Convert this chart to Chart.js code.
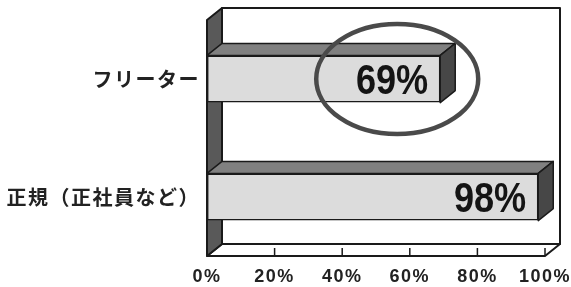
<!DOCTYPE html>
<html>
<head>
<meta charset="utf-8">
<script src="https://cdn.jsdelivr.net/npm/chart.js@4"></script>
<style>
  html, body { margin: 0; padding: 0; background: #fff; }
  #wrap { width: 571px; height: 287px; }
</style>
</head>
<body>
<div id="wrap"><canvas id="chart"></canvas></div>
<script>
const categories = ["フリーター", "正規（正社員など）"];
const shares = [69, 98];
const xTicks = [0, 20, 40, 60, 80, 100];
const highlightIndex = 0;

// depth of the fake 3d box
const DX = 15;
const DY = -12;

function poly(ctx, pts, fill) {
  ctx.beginPath();
  ctx.moveTo(pts[0][0], pts[0][1]);
  for (const p of pts.slice(1)) ctx.lineTo(p[0], p[1]);
  ctx.closePath();
  ctx.fillStyle = fill;
  ctx.fill();
  ctx.stroke();
}

const box3d = {
  id: "box3d",
  beforeDraw(chart) {
    chart.ctx.letterSpacing = "1.5px";
  },
  beforeDatasetsDraw(chart) {
    const { ctx, chartArea: a } = chart;
    const xs = chart.scales.x;
    ctx.save();
    ctx.letterSpacing = "0px";
    ctx.lineWidth = 2;
    ctx.strokeStyle = "#1a1a1a";
    ctx.lineJoin = "round";
    // back wall
    poly(ctx, [[a.left + DX, a.top + DY], [a.right + DX, a.top + DY], [a.right + DX, a.bottom + DY], [a.left + DX, a.bottom + DY]], "#fff");
    // floor
    poly(ctx, [[a.left, a.bottom], [a.left + DX, a.bottom + DY], [a.right + DX, a.bottom + DY], [a.right, a.bottom]], "#fff");
    // left wall
    poly(ctx, [[a.left, a.top], [a.left + DX, a.top + DY], [a.left + DX, a.bottom + DY], [a.left, a.bottom]], "#595959");
    // ticks on the floor edge
    ctx.lineWidth = 1.5;
    for (const t of xs.ticks) {
      const px = xs.getPixelForValue(t.value);
      ctx.beginPath();
      ctx.moveTo(px, a.bottom - 1);
      ctx.lineTo(px, a.bottom - 8);
      ctx.stroke();
    }
    ctx.restore();
  },
  afterDatasetsDraw(chart) {
    const { ctx } = chart;
    const meta = chart.getDatasetMeta(0);
    ctx.save();
    ctx.letterSpacing = "0px";
    ctx.lineWidth = 1.5;
    ctx.strokeStyle = "#1a1a1a";
    ctx.lineJoin = "round";
    meta.data.forEach((bar, i) => {
      const { x, y, base, height } = bar.getProps(["x", "y", "base", "height"], true);
      const top = y - height / 2;
      const bot = y + height / 2;
      poly(ctx, [[base, top], [base + DX, top + DY], [x + DX, top + DY], [x, top]], "#808080");
      poly(ctx, [[x, top], [x + DX, top + DY], [x + DX, bot + DY], [x, bot]], "#474747");

      ctx.save();
      ctx.translate(x - 12, y + 14.5);
      ctx.scale(0.84, 1);
      ctx.font = "bold 43px 'Liberation Sans', Arial, sans-serif";
      ctx.textAlign = "right";
      ctx.textBaseline = "alphabetic";
      ctx.fillStyle = "#141414";
      ctx.fillText(shares[i] + "%", 0, 0);
      ctx.restore();

      if (i === highlightIndex) {
        ctx.save();
        ctx.lineWidth = 4.5;
        ctx.strokeStyle = "#4a4a4a";
        ctx.beginPath();
        ctx.ellipse(x - 43, y, 81, 55, 0, 0, Math.PI * 2);
        ctx.stroke();
        ctx.restore();
      }
    });
    ctx.restore();
  }
};

new Chart(document.getElementById("chart"), {
  type: "bar",
  data: {
    labels: categories,
    datasets: [{
      data: shares,
      backgroundColor: "#dcdcdc",
      borderColor: "#1a1a1a",
      borderWidth: 1.5,
      borderSkipped: false,
      categoryPercentage: 1,
      barPercentage: 0.4
    }]
  },
  options: {
    indexAxis: "y",
    responsive: true,
    maintainAspectRatio: false,
    animation: false,
    layout: { padding: { top: 20, right: 26, left: 0, bottom: 0 } },
    plugins: {
      legend: { display: false },
      tooltip: { enabled: false }
    },
    scales: {
      x: {
        min: 0,
        max: 100,
        afterBuildTicks(scale) {
          scale.ticks = xTicks.map(v => ({ value: v }));
        },
        afterFit(scale) {
          scale.height = 31;
          scale.paddingLeft = 0;
          scale.paddingRight = 0;
        },
        grid: { display: false, drawTicks: false },
        border: { display: false },
        ticks: {
          padding: 10,
          color: "#222",
          maxRotation: 0,
          autoSkip: false,
          font: { family: "'Liberation Sans', Arial, sans-serif", size: 18, weight: "bold" },
          callback: v => v + "%"
        }
      },
      y: {
        afterFit(scale) { scale.width = 207; },
        grid: { display: false, drawTicks: false },
        border: { display: false },
        ticks: {
          padding: 7,
          color: "#222",
          font: { family: "'Noto Sans CJK JP', sans-serif", size: 20, weight: "bold" }
        }
      }
    }
  },
  plugins: [box3d]
});
</script>
</body>
</html>
